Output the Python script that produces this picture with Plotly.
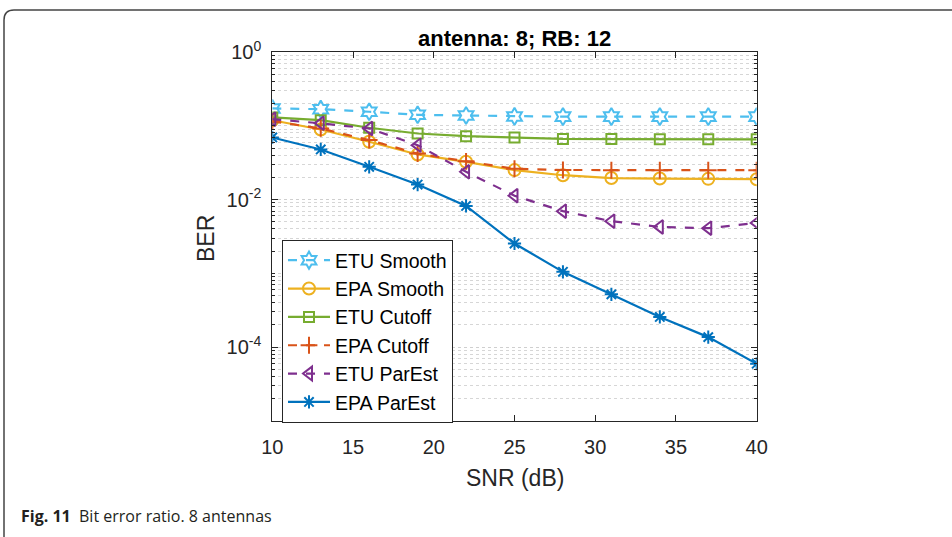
import plotly.graph_objects as go

snr = [10, 13, 16, 19, 22, 25, 28, 31, 34, 37, 40]

etu_smooth = [0.172, 0.168, 0.155, 0.141, 0.138, 0.134, 0.133, 0.133, 0.133, 0.133, 0.133]
epa_smooth = [0.119, 0.089, 0.0607, 0.0409, 0.0325, 0.0251, 0.0214, 0.0196, 0.0193, 0.0191, 0.0189]
etu_cutoff = [0.130, 0.119, 0.094, 0.0787, 0.0724, 0.0695, 0.0665, 0.0660, 0.0655, 0.0655, 0.0655]
epa_cutoff = [0.115, 0.092, 0.064, 0.042, 0.0330, 0.0262, 0.0252, 0.0250, 0.0250, 0.0250, 0.0250]
etu_parest = [0.123, 0.108, 0.092, 0.0547, 0.0238, 0.0113, 0.00697, 0.0051, 0.00426, 0.0041, 0.00483]
epa_parest = [0.0695, 0.0478, 0.0278, 0.016, 0.0082, 0.00254, 0.00105, 0.00052, 0.000257, 0.000137, 0.0000597]

series = [
    ("ETU Smooth", etu_smooth, "#4DBEEE", "dash", "hexagram-open", 13),
    ("EPA Smooth", epa_smooth, "#EDB120", "solid", "circle-open", 12),
    ("ETU Cutoff", etu_cutoff, "#77AC30", "solid", "square-open", 10),
    ("EPA Cutoff", epa_cutoff, "#D95319", "dash", "cross-thin-open", 12),
    ("ETU ParEst", etu_parest, "#7E2F8E", "dash", "triangle-left-open", 12),
    ("EPA ParEst", epa_parest, "#0072BD", "solid", "asterisk-open", 11),
]

yticks = [1, 1e-2, 1e-4]
yticktext = ["10<sup>0</sup>", "10<sup>-2</sup>", "10<sup>-4</sup>"]
xticks = [10, 15, 20, 25, 30, 35, 40]

minor_vals = []
for k in range(-5, 0):
    for m in range(1, 10):
        v = m * 10 ** k
        if v not in yticks:
            minor_vals.append(v)

fig = go.Figure()
for name, vals, color, dash, sym, size in series:
    fig.add_trace(go.Scatter(
        x=snr, y=vals, name=name, mode="lines+markers",
        line=dict(color=color, width=2.2, dash=dash),
        marker=dict(symbol=sym, size=size, color=color, line=dict(color=color, width=2)),
    ))

W, H = 952, 537
x0, x1 = 272.3, 756.7
y0, y1 = 52.0, 421.0

axcol = "#262626"
fig.update_layout(
    width=W, height=H, autosize=False,
    margin=dict(l=0, r=0, t=0, b=0, pad=0, autoexpand=False),
    paper_bgcolor="white", plot_bgcolor="white",
    font=dict(family="Liberation Sans, Arial, sans-serif", color="#262626"),
    showlegend=True,
    legend=dict(
        x=282 / W, y=1 - 240 / H, xanchor="left", yanchor="top",
        bgcolor="white", bordercolor=axcol, borderwidth=1,
        font=dict(size=19.5, color="#000000"),
        tracegroupgap=0, itemwidth=42,
    ),
    xaxis=dict(
        domain=[x0 / W, x1 / W], range=[10, 40], automargin=False,
        tickmode="array", tickvals=xticks,
        ticks="inside", ticklen=6, tickcolor=axcol,
        showline=True, linecolor=axcol, linewidth=1, mirror="ticks",
        showgrid=False, zeroline=False,
        tickfont=dict(size=20, color="#262626"),
        ticklabelstandoff=8,
    ),
    yaxis=dict(
        domain=[1 - y1 / H, 1 - y0 / H], type="log", range=[-5, 0], automargin=False,
        tickmode="array", tickvals=yticks, ticktext=yticktext,
        ticks="inside", ticklen=6, tickcolor=axcol,
        showline=True, linecolor=axcol, linewidth=1, mirror="ticks",
        showgrid=True, gridcolor="#cfcfcf", griddash="dot", gridwidth=1,
        zeroline=False,
        tickfont=dict(size=20, color="#262626"),
        ticklabelstandoff=6,
        minor=dict(tickmode="array", tickvals=minor_vals, ticks="inside", ticklen=3,
                   tickcolor=axcol, showgrid=True, gridcolor="#d6d6d6",
                   griddash="dot", gridwidth=1),
    ),
)

fig.add_annotation(
    text="<b>antenna: 8; RB: 12</b>", xref="paper", yref="paper",
    x=(x0 + x1) / 2 / W, y=1 - 38 / H, xanchor="center", yanchor="middle",
    showarrow=False, font=dict(size=22, color="#000000"),
)
fig.add_annotation(
    text="BER", xref="paper", yref="paper",
    x=206 / W, y=1 - 239 / H, xanchor="center", yanchor="middle",
    textangle=-90, showarrow=False, font=dict(size=23, color="#262626"),
)
fig.add_annotation(
    text="SNR (dB)", xref="paper", yref="paper",
    x=(x0 + x1) / 2 / W, y=1 - 478 / H, xanchor="center", yanchor="middle",
    showarrow=False, font=dict(size=23, color="#262626"),
)
fig.add_annotation(
    text="<b>Fig. 11</b>  Bit error ratio. 8 antennas", xref="paper", yref="paper",
    x=19 / W, y=1 - 516 / H, xanchor="left", yanchor="middle",
    showarrow=False, font=dict(size=16, color="#231f20", family="Open Sans, Noto Sans, sans-serif"),
)

# figure frame (journal box)
fig.add_shape(
    type="path", xref="paper", yref="paper",
    path=f"M {4/W} {0} L {4/W} {1-20/H} Q {4/W} {1-10/H} {14/W} {1-10/H} L {1.0} {1-10/H}",
    line=dict(color="#444444", width=1.5),
)

fig.write_html(
    "out.html",
    config={"responsive": False, "displayModeBar": False},
    post_script="document.body.style.margin='0';document.body.style.overflow='hidden';",
)
